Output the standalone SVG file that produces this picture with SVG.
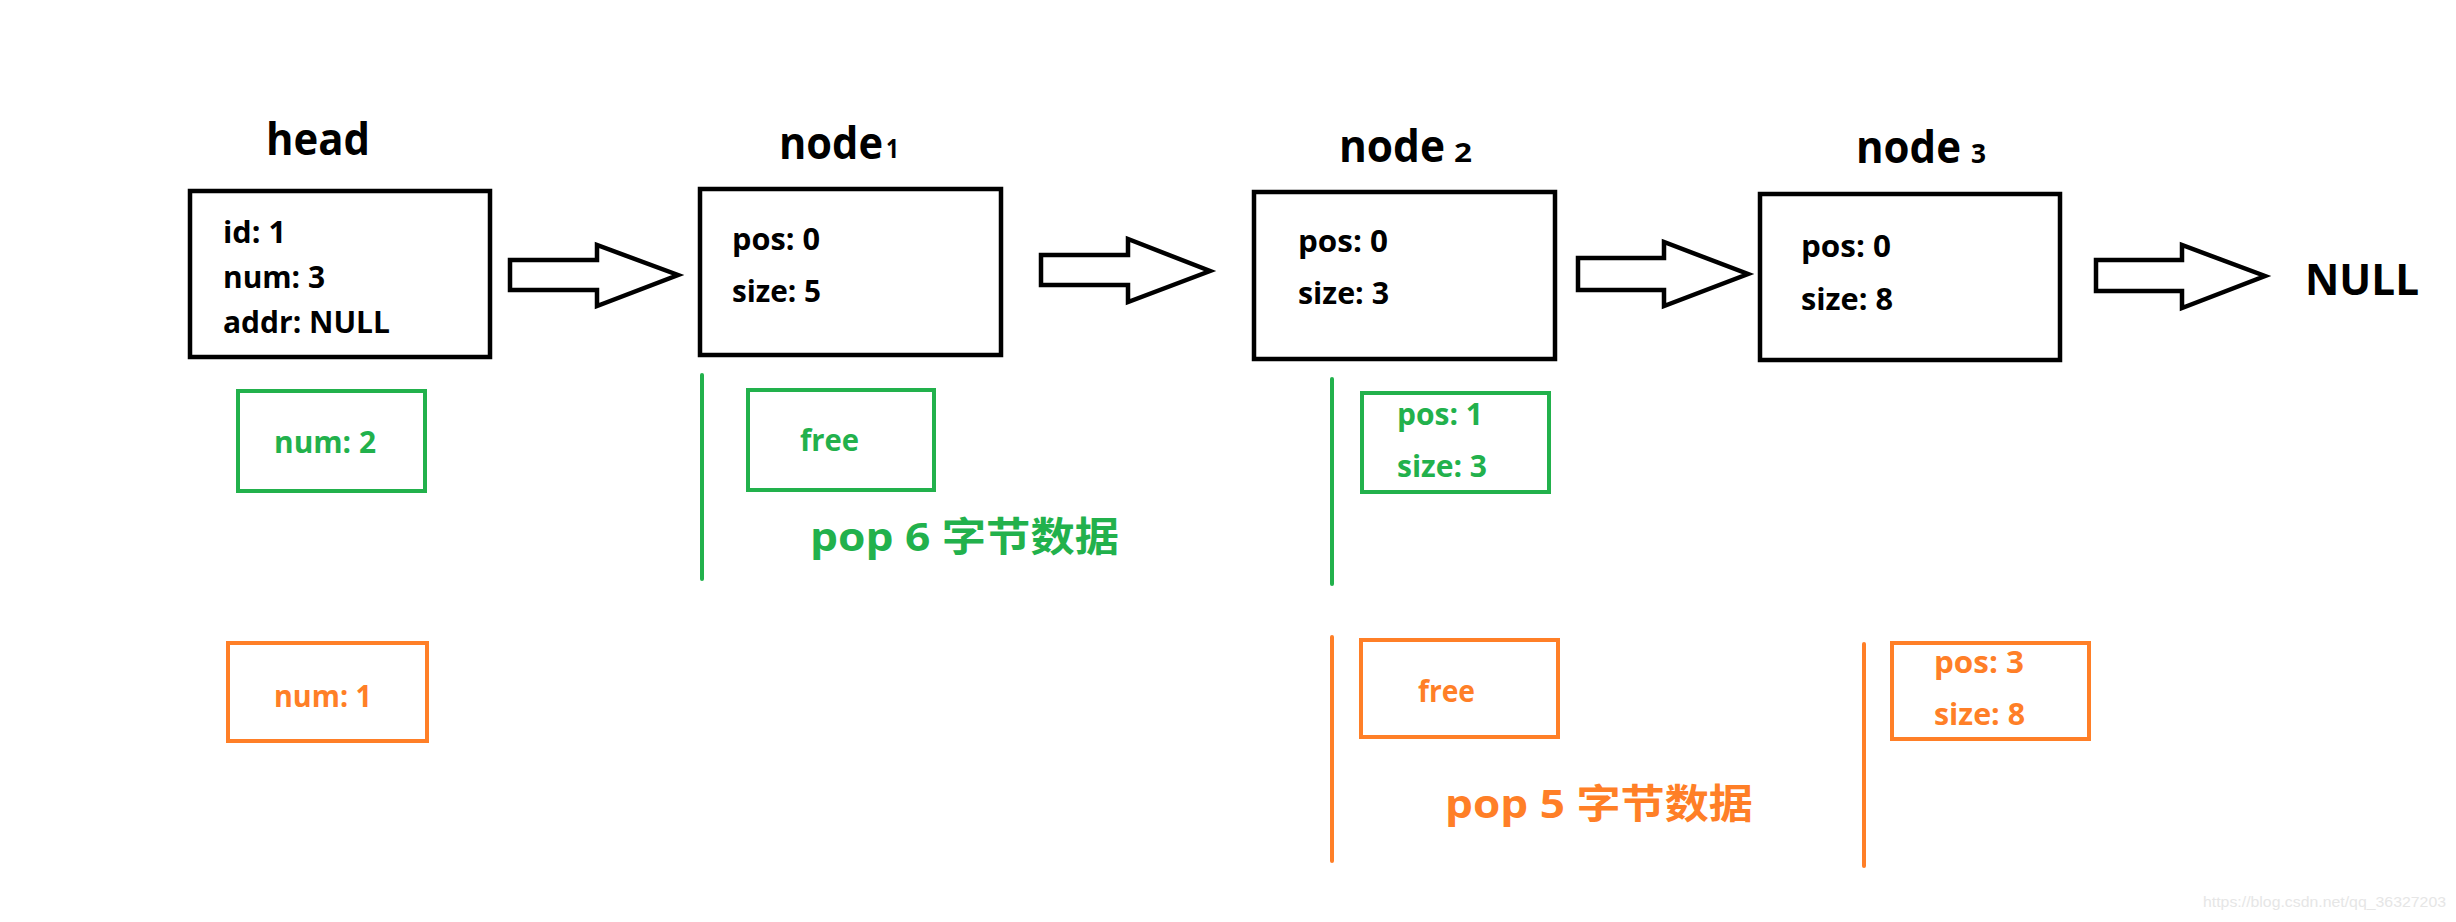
<svg xmlns="http://www.w3.org/2000/svg" width="2456" height="922" viewBox="0 0 2456 922">
<style>
text{font-family:"Open Sans","Noto Sans CJK SC",sans-serif;font-weight:bold}
.k{fill:#000}
.g{fill:#22b14c}
.o{fill:#ff7f27}
.t{font-size:44px}
.c{font-size:31px}
.p{font-size:40px}
.bx{fill:#fff;stroke:#000;stroke-width:4.5}
.gb{fill:none;stroke:#22b14c;stroke-width:4}
.ob{fill:none;stroke:#ff7f27;stroke-width:4}
.gl{stroke:#22b14c;stroke-width:4;stroke-linecap:round}
.ol{stroke:#ff7f27;stroke-width:4;stroke-linecap:round}
.ar{fill:#fff;stroke:#000;stroke-width:4.5;stroke-linejoin:miter}
.wm{font-family:"Liberation Sans",sans-serif;font-weight:normal;font-size:14px;fill:#e6e6e6}
</style>
<rect width="2456" height="922" fill="#fff"/>

<g id="head">
<text class="k t" x="266" y="155" textLength="104" lengthAdjust="spacingAndGlyphs">head</text>
<rect class="bx" x="190" y="191" width="300" height="166"/>
<text class="k c" x="223" y="243" textLength="63" lengthAdjust="spacingAndGlyphs">id: 1</text>
<text class="k c" x="223" y="288" textLength="102" lengthAdjust="spacingAndGlyphs">num: 3</text>
<text class="k c" x="223" y="333" textLength="167" lengthAdjust="spacingAndGlyphs">addr: NULL</text>
</g>

<g id="node1">
<text class="k t" x="779" y="159" textLength="104" lengthAdjust="spacingAndGlyphs">node</text>
<text class="k" x="886" y="158" font-size="27" textLength="13" lengthAdjust="spacingAndGlyphs">1</text>
<rect class="bx" x="700" y="189" width="301" height="166"/>
<text class="k c" x="732" y="250" textLength="88" lengthAdjust="spacingAndGlyphs">pos: 0</text>
<text class="k c" x="732" y="302" textLength="89" lengthAdjust="spacingAndGlyphs">size: 5</text>
</g>

<g id="node2">
<text class="k t" x="1339" y="162" textLength="106" lengthAdjust="spacingAndGlyphs">node</text>
<text class="k" x="1454" y="162" font-size="26" textLength="18" lengthAdjust="spacingAndGlyphs">2</text>
<rect class="bx" x="1254" y="192" width="301" height="167"/>
<text class="k c" x="1298" y="252" textLength="90" lengthAdjust="spacingAndGlyphs">pos: 0</text>
<text class="k c" x="1298" y="304" textLength="91" lengthAdjust="spacingAndGlyphs">size: 3</text>
</g>

<g id="node3">
<text class="k t" x="1856" y="163" textLength="105" lengthAdjust="spacingAndGlyphs">node</text>
<text class="k" x="1971" y="163" font-size="26" textLength="15" lengthAdjust="spacingAndGlyphs">3</text>
<rect class="bx" x="1760" y="194" width="300" height="166"/>
<text class="k c" x="1801" y="257" textLength="90" lengthAdjust="spacingAndGlyphs">pos: 0</text>
<text class="k c" x="1801" y="310" textLength="92" lengthAdjust="spacingAndGlyphs">size: 8</text>
</g>

<g id="null">
<text class="k" x="2305" y="295" font-size="43" textLength="114" lengthAdjust="spacingAndGlyphs">NULL</text>
</g>

<g id="connectors">
<path class="ar" d="M510,260 H597 V245 L678,275 L597,306 V290 H510 Z"/>
<path class="ar" d="M1041,255 H1128 V239 L1210,271 L1128,302 V285 H1041 Z"/>
<path class="ar" d="M1578,258 H1664 V242 L1748,274 L1664,306 V290 H1578 Z"/>
<path class="ar" d="M2096,260 H2182 V245 L2265,276 L2182,308 V291 H2096 Z"/>
</g>

<g id="green-num2">
<rect class="gb" x="238" y="391" width="187" height="100"/>
<text class="g c" x="274" y="453" textLength="102" lengthAdjust="spacingAndGlyphs">num: 2</text>
</g>
<g id="green-divider1"><line class="gl" x1="702" y1="375" x2="702" y2="579"/></g>
<g id="green-free">
<rect class="gb" x="748" y="390" width="186" height="100"/>
<text class="g c" x="800" y="451" textLength="59" lengthAdjust="spacingAndGlyphs">free</text>
</g>
<g id="green-pop">
<text class="g p" x="810" y="551" textLength="309" lengthAdjust="spacingAndGlyphs">pop 6 字节数据</text>
</g>
<g id="green-divider2"><line class="gl" x1="1332" y1="379" x2="1332" y2="584"/></g>
<g id="green-pos1">
<rect class="gb" x="1362" y="393" width="187" height="99"/>
<text class="g c" x="1397" y="425" textLength="86" lengthAdjust="spacingAndGlyphs">pos: 1</text>
<text class="g c" x="1397" y="477" textLength="90" lengthAdjust="spacingAndGlyphs">size: 3</text>
</g>

<g id="orange-num1">
<rect class="ob" x="228" y="643" width="199" height="98"/>
<text class="o c" x="274" y="707" textLength="98" lengthAdjust="spacingAndGlyphs">num: 1</text>
</g>
<g id="orange-divider1"><line class="ol" x1="1332" y1="637" x2="1332" y2="861"/></g>
<g id="orange-free">
<rect class="ob" x="1361" y="640" width="197" height="97"/>
<text class="o c" x="1418" y="702" textLength="57" lengthAdjust="spacingAndGlyphs">free</text>
</g>
<g id="orange-pop">
<text class="o p" x="1445" y="818" textLength="308" lengthAdjust="spacingAndGlyphs">pop 5 字节数据</text>
</g>
<g id="orange-divider2"><line class="ol" x1="1864" y1="644" x2="1864" y2="866"/></g>
<g id="orange-pos3">
<rect class="ob" x="1892" y="643" width="197" height="96"/>
<text class="o c" x="1934" y="673" textLength="90" lengthAdjust="spacingAndGlyphs">pos: 3</text>
<text class="o c" x="1934" y="725" textLength="91" lengthAdjust="spacingAndGlyphs">size: 8</text>
</g>

<text class="wm" x="2203" y="907" textLength="243" lengthAdjust="spacingAndGlyphs">https://blog.csdn.net/qq_36327203</text>
</svg>
